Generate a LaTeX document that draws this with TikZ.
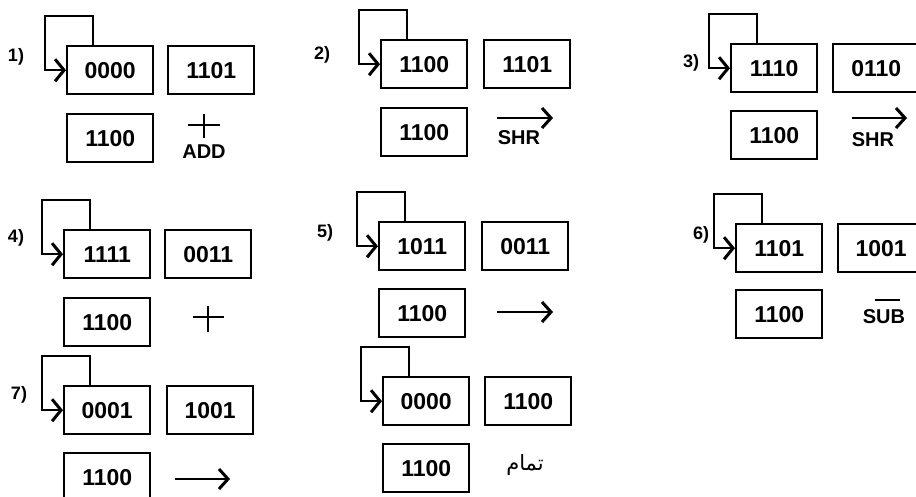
\documentclass[tikz,border=0pt]{standalone}
\usepackage{fontspec}
\setmainfont{Liberation Sans}
\newfontfamily\arabicfont[Script=Arabic]{DejaVu Sans}
\TeXXeTstate=1
\usetikzlibrary{arrows.meta}
\tikzset{
 reg/.style={draw, line width=2.4pt, minimum width=86pt, minimum height=48pt, inner sep=0pt, anchor=north west, font=\bfseries\fontsize{23}{23}\selectfont},
 steplabel/.style={font=\bfseries\fontsize{18}{18}\selectfont, inner sep=0pt},
 oplabel/.style={font=\bfseries\fontsize{20}{20}\selectfont, inner sep=0pt},
 fb/.style={line width=2.4pt, -{Straight Barb[length=9pt,width=22pt,line width=3pt]}},
 oparrow/.style={line width=2.4pt, -{Straight Barb[length=9pt,width=20pt,line width=3pt]}},
 opline/.style={line width=2.4pt},
}
\newcommand\fbloop[1]{\draw[fb] ([xshift=27pt]#1.north west) -- ++(0,-29) -| ([xshift=-21pt]#1.west) -- (#1.west);}
\begin{document}
\begin{tikzpicture}[x=1pt, y=-1pt]
\useasboundingbox (0,0) rectangle (916,496);
\clip (0,0) rectangle (916,496);
% group 1
\node[steplabel] (l1) at (16,57) {1)};
\node[reg] (a1) at (66,45) {0000};
\node[reg] (q1) at (167,45) {1101};
\node[reg] (m1) at (66,113) {1100};
\fbloop{a1}
\draw[opline] (188,125) -- (220,125) (204,114) -- (204,138);
\node[oplabel] (op1) at (204,152) {ADD};
% group 2
\node[steplabel] (l2) at (322,55) {2)};
\node[reg] (a2) at (380,39) {1100};
\node[reg] (q2) at (483,39) {1101};
\node[reg] (m2) at (380,107) {1100};
\fbloop{a2}
\draw[oparrow] (497,118) -- (553,118);
\node[oplabel] (op2) at (519,138) {SHR};
% group 3
\node[steplabel] (l3) at (691,63) {3)};
\node[reg] (a3) at (730,43) {1110};
\node[reg] (q3) at (832,43) {0110};
\node[reg] (m3) at (730,110) {1100};
\fbloop{a3}
\draw[oparrow] (852,118) -- (907,118);
\node[oplabel] (op3) at (873,140) {SHR};
% group 4
\node[steplabel] (l4) at (16,238) {4)};
\node[reg] (a4) at (63,229) {1111};
\node[reg] (q4) at (164,229) {0011};
\node[reg] (m4) at (63,297) {1100};
\fbloop{a4}
\draw[opline] (193,317) -- (224,317) (208,306) -- (208,332);
% group 5
\node[steplabel] (l5) at (325,233) {5)};
\node[reg] (a5) at (378,221) {1011};
\node[reg] (q5) at (481,221) {0011};
\node[reg] (m5) at (378,288) {1100};
\fbloop{a5}
\draw[oparrow] (497,312) -- (553,312);
% group 6
\node[steplabel] (l6) at (701,235) {6)};
\node[reg] (a6) at (735,223) {1101};
\node[reg] (q6) at (837,223) {1001};
\node[reg] (m6) at (735,289) {1100};
\fbloop{a6}
\node[oplabel] (op6) at (884,317) {SUB};
\draw[line width=2.4pt] (875,300) -- (900,300);
% group 7
\node[steplabel] (l7) at (19,395) {7)};
\node[reg] (a7) at (63,385) {0001};
\node[reg] (q7) at (166,385) {1001};
\node[reg] (m7) at (63,452) {1100};
\fbloop{a7}
\draw[oparrow] (175,479) -- (230,479);
% group 8
\node[reg] (a8) at (382,376) {0000};
\node[reg] (q8) at (484,376) {1100};
\node[reg] (m8) at (382,443) {1100};
\fbloop{a8}
\node[inner sep=0pt, font=\arabicfont\fontsize{21}{21}\selectfont] (done) at (525,465) {\beginR تمام\endR};
\end{tikzpicture}
\end{document}
